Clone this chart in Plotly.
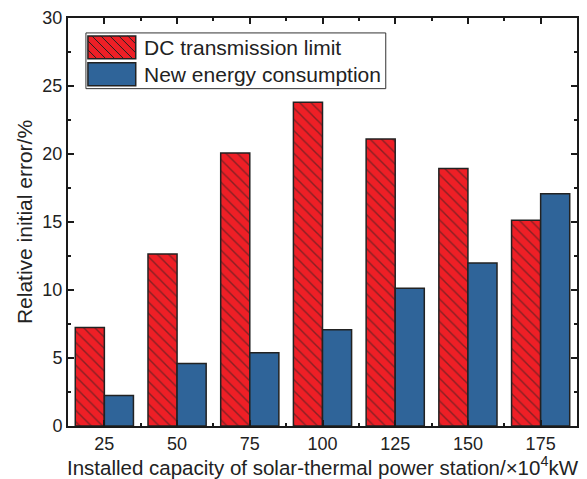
import plotly.graph_objects as go

capacity = [25, 50, 75, 100, 125, 150, 175]
dc_limit = [7.25, 12.65, 20.08, 23.8, 21.1, 18.93, 15.12]
new_energy = [2.25, 4.6, 5.38, 7.08, 10.12, 11.98, 17.08]
tick_labels = ["25", "50", "75", "100", "125", "150", "175"]
series_names = ["DC transmission limit", "New energy consumption"]

RED = "#EE1F26"
BLUE = "#2F6499"
EDGE = "#222222"
FONT = "Liberation Sans, Arial, sans-serif"

# figure geometry (pixels) used to place the hand-drawn legend
W, H = 587, 479
ML, MR, MT, MB = 68, 8, 16, 53
PW, PH = W - ML - MR, H - MT - MB


def px_x(px):
    return (px - ML) / PW


def px_y(py):
    return (H - MB - py) / PH


fig = go.Figure()
fig.add_trace(go.Bar(
    x=capacity, y=dc_limit, name=series_names[0], showlegend=False,
    marker=dict(color=RED, line=dict(color=EDGE, width=1.5),
                pattern=dict(shape="\\", fgcolor=EDGE, bgcolor=RED, size=8, solidity=0.18)),
))
fig.add_trace(go.Bar(
    x=capacity, y=new_energy, name=series_names[1], showlegend=False,
    marker=dict(color=BLUE, line=dict(color=EDGE, width=1.5)),
))

# ---- hand-drawn legend (large swatches like the original) ----
shapes = []
box = (86, 31, 387, 87)
shapes.append(dict(type="rect", xref="paper", yref="paper",
                   x0=px_x(box[0]), x1=px_x(box[2]), y0=px_y(box[3]), y1=px_y(box[1]),
                   line=dict(color="#333", width=1), fillcolor="white", layer="above"))
swatches = [((88, 34, 136, 57), RED, True), ((88, 61, 136, 84), BLUE, False)]
for (L, T, R, B), col, hatch in swatches:
    shapes.append(dict(type="rect", xref="paper", yref="paper",
                       x0=px_x(L), x1=px_x(R), y0=px_y(B), y1=px_y(T),
                       line=dict(color=EDGE, width=1.5), fillcolor=col, layer="above"))
    if hatch:
        hgt = B - T
        c = L - hgt
        while c < R:
            xs = max(L, c)
            xe = min(R, c + hgt)
            if xe > xs:
                shapes.append(dict(type="line", xref="paper", yref="paper",
                                   x0=px_x(xs), y0=px_y(T + (xs - c)),
                                   x1=px_x(xe), y1=px_y(T + (xe - c)),
                                   line=dict(color=EDGE, width=1), layer="above"))
            c += 9

annotations = []
for name, yc in zip(series_names, [45.5, 72.5]):
    annotations.append(dict(text=name, xref="paper", yref="paper",
                            x=px_x(142), y=px_y(yc), xanchor="left", yanchor="middle",
                            showarrow=False, font=dict(family=FONT, size=21, color="#222")))

axis_common = dict(
    showline=True, linecolor="#1a1a1a", linewidth=2, mirror="ticks",
    ticks="inside", ticklen=6, tickwidth=1.5, tickcolor="#1a1a1a",
    showgrid=False, zeroline=False,
    tickfont=dict(family=FONT, size=18, color="#222"),
)

fig.update_layout(
    width=W, height=H,
    margin=dict(l=ML, r=MR, t=MT, b=MB),
    paper_bgcolor="white", plot_bgcolor="white",
    barmode="group", bargap=0.2, bargroupgap=0,
    font=dict(family=FONT, color="#222"),
    showlegend=False,
    shapes=shapes,
    annotations=annotations,
    xaxis=dict(
        **axis_common,
        range=[12.5, 187.5], tickvals=capacity, ticktext=tick_labels,
        minor=dict(ticks="inside", ticklen=3, tickwidth=1.5, tickcolor="#1a1a1a", dtick=25, tick0=12.5),
        title=dict(text="Installed capacity of solar-thermal power station/×10<sup>4</sup>kW",
                   font=dict(family=FONT, size=20.5, color="#222"), standoff=2),
    ),
    yaxis=dict(
        **axis_common,
        range=[0, 30], dtick=5, tick0=0,
        minor=dict(ticks="inside", ticklen=3, tickwidth=1.5, tickcolor="#1a1a1a", dtick=2.5),
        title=dict(text="Relative initial error/%",
                   font=dict(family=FONT, size=21, color="#222"), standoff=4),
    ),
)

fig.write_html("out.html")
